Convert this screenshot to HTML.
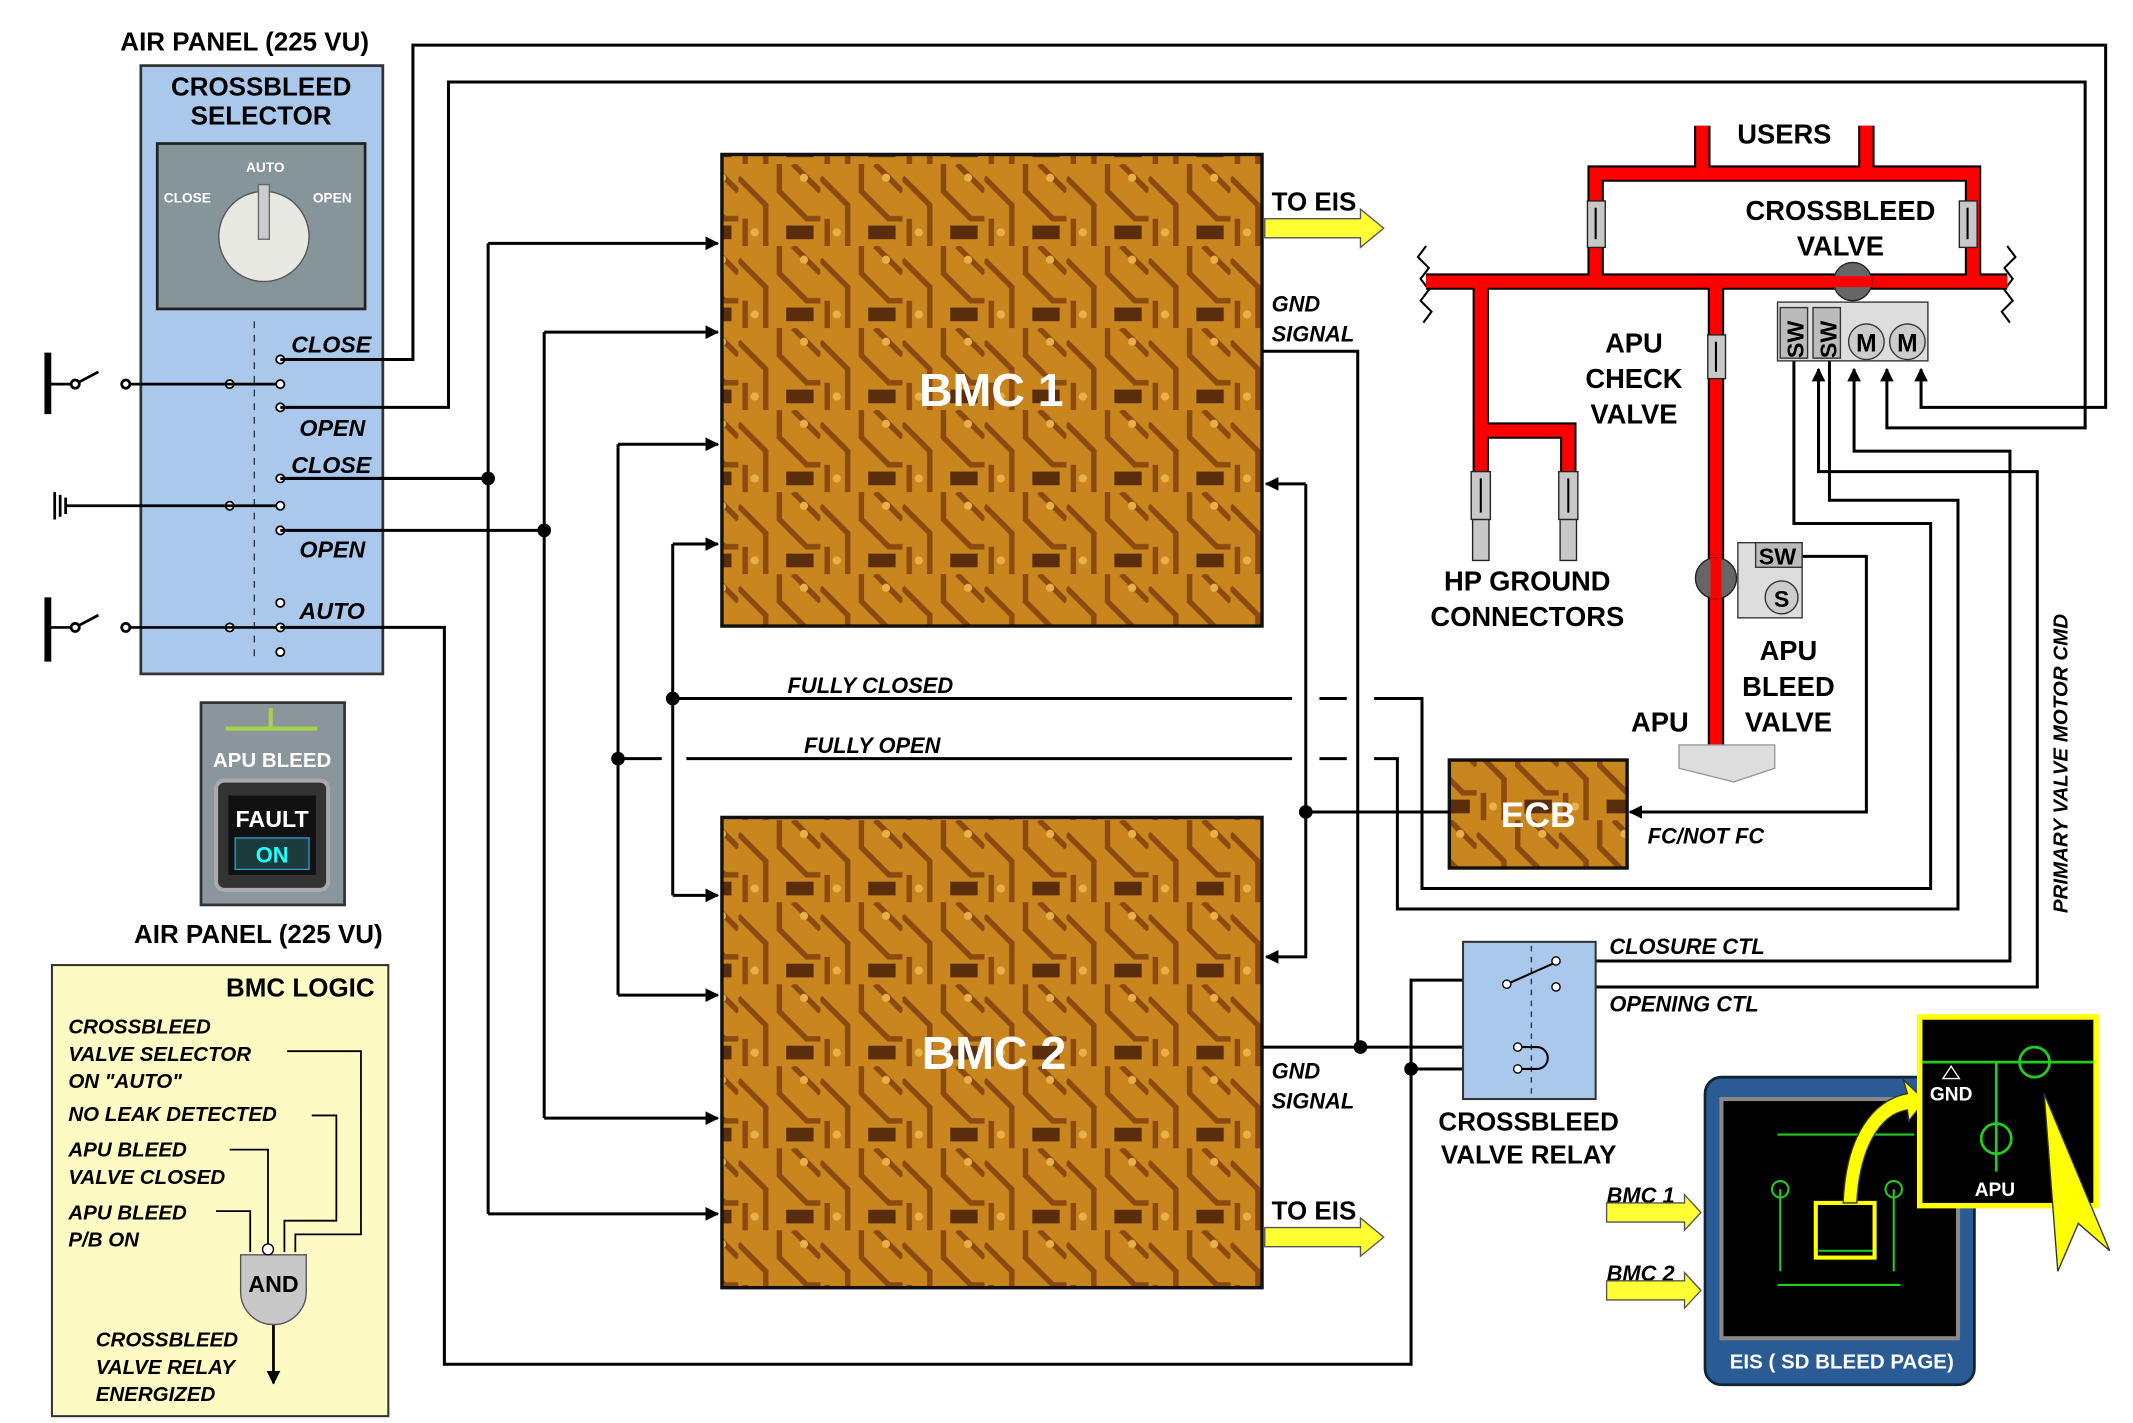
<!DOCTYPE html>
<html><head><meta charset="utf-8"><style>
html,body{margin:0;padding:0;background:#fff}
svg{display:block}
text{font-family:"Liberation Sans",Arial,sans-serif;font-weight:bold}
</style></head><body>
<svg width="2133" height="1423" viewBox="0 0 1560 1041" preserveAspectRatio="none" xmlns="http://www.w3.org/2000/svg">
<defs>
<pattern id="pcb" width="60" height="60" patternUnits="userSpaceOnUse">
<rect width="60" height="60" fill="#c9861e"/>
<path d="M0 10 L20 30 L20 60 M30 0 L30 20 L50 40 L60 40 M40 0 L60 20 M5 60 L5 40" stroke="#8a4a10" stroke-width="4" fill="none"/>
<rect x="35" y="45" width="20" height="10" fill="#5a2e0c"/>
<circle cx="12" cy="50" r="3" fill="#e9b04a"/><circle cx="48" cy="10" r="3" fill="#e9b04a"/>
</pattern>
<marker id="ar" markerWidth="10" markerHeight="10" refX="9" refY="5" orient="auto" markerUnits="userSpaceOnUse"><path d="M0,0 L10,5 L0,10 z" fill="#000"/></marker>
</defs>
<rect width="1560" height="1041" fill="#fff"/>

<!-- Air panel -->
<text x="88" y="37" font-size="19">AIR PANEL (225 VU)</text>
<rect x="103" y="48" width="177" height="445" fill="#a9c8ec" stroke="#333" stroke-width="2"/>
<text x="191" y="70" font-size="19" text-anchor="middle">CROSSBLEED</text>
<text x="191" y="91" font-size="19" text-anchor="middle">SELECTOR</text>
<rect x="115" y="105" width="152" height="121" fill="#86959a" stroke="#222" stroke-width="2"/>
<circle cx="193" cy="173" r="33" fill="#e9e9e4" stroke="#555"/>
<rect x="189" y="135" width="8" height="40" fill="#ccc" stroke="#666"/>
<text x="194" y="126" font-size="10" fill="#fff" text-anchor="middle" font-weight="normal">AUTO</text>
<text x="137" y="148" font-size="10" fill="#fff" text-anchor="middle" font-weight="normal">CLOSE</text>
<text x="243" y="148" font-size="10" fill="#fff" text-anchor="middle" font-weight="normal">OPEN</text>
<line x1="186" y1="235" x2="186" y2="485" stroke="#333" stroke-dasharray="5,5"/>
<g font-size="17" font-style="italic">
<text x="213" y="258">CLOSE</text><text x="219" y="319">OPEN</text>
<text x="213" y="346">CLOSE</text><text x="219" y="408">OPEN</text><text x="219" y="453">AUTO</text>
</g>
<g fill="#fff" stroke="#000" stroke-width="1.3">
<circle cx="205" cy="263" r="3"/><circle cx="205" cy="281" r="3"/><circle cx="205" cy="298" r="3"/>
<circle cx="205" cy="350" r="3"/><circle cx="205" cy="370" r="3"/><circle cx="205" cy="388" r="3"/>
<circle cx="205" cy="441" r="3"/><circle cx="205" cy="459" r="3"/><circle cx="205" cy="477" r="3"/>
<circle cx="168" cy="281" r="3"/><circle cx="168" cy="370" r="3"/><circle cx="168" cy="459" r="3"/>
</g>
<g stroke="#000" stroke-width="2" fill="none">
<line x1="35" y1="258" x2="35" y2="303" stroke-width="5"/>
<path d="M35 281 H55 M55 281 L72 272 M92 281 H202"/>
<circle cx="55" cy="281" r="3" fill="#fff"/><circle cx="92" cy="281" r="3" fill="#fff"/>
<path d="M40 360 V380 M44 362 V378 M48 364 V376 M48 370 H202"/>
<line x1="35" y1="437" x2="35" y2="484" stroke-width="5"/>
<path d="M35 459 H55 M55 459 L72 450 M92 459 H202"/>
<circle cx="55" cy="459" r="3" fill="#fff"/><circle cx="92" cy="459" r="3" fill="#fff"/>
</g>

<!-- APU bleed panel -->
<rect x="147" y="514" width="105" height="148" fill="#8a969b" stroke="#333" stroke-width="2"/>
<path d="M165 533 H232 M198 518 V533" stroke="#a6d24b" stroke-width="3"/>
<text x="199" y="561" font-size="15" fill="#fff" text-anchor="middle" font-weight="normal">APU BLEED</text>
<rect x="158" y="571" width="82" height="80" rx="6" fill="#333" stroke="#aaa" stroke-width="3"/>
<rect x="167" y="582" width="64" height="58" fill="#111"/>
<text x="199" y="605" font-size="17" fill="#fff" text-anchor="middle" font-weight="normal">FAULT</text>
<rect x="172" y="613" width="54" height="23" fill="#1d3b3b" stroke="#39c" />
<text x="199" y="631" font-size="16" fill="#2ff" text-anchor="middle">ON</text>
<text x="98" y="690" font-size="19">AIR PANEL (225 VU)</text>

<!-- BMC logic -->
<rect x="38" y="706" width="246" height="330" fill="#fdfbc3" stroke="#333" stroke-width="1.5"/>
<text x="274" y="729" font-size="19" text-anchor="end">BMC LOGIC</text>
<g font-size="15" font-style="italic">
<text x="50" y="756">CROSSBLEED</text><text x="50" y="776">VALVE SELECTOR</text><text x="50" y="796">ON "AUTO"</text>
<text x="50" y="820">NO LEAK DETECTED</text>
<text x="50" y="846">APU BLEED</text><text x="50" y="866">VALVE CLOSED</text>
<text x="50" y="892">APU BLEED</text><text x="50" y="912">P/B ON</text>
<text x="70" y="985">CROSSBLEED</text><text x="70" y="1005">VALVE RELAY</text><text x="70" y="1025">ENERGIZED</text>
</g>
<g stroke="#000" stroke-width="1.3" fill="none">
<path d="M210 769 H264 V903 H216 V916"/>
<path d="M228 816 H246 V893 H208 V916"/>
<path d="M168 841 H196 V912 V916"/>
<path d="M158 886 H183 V916"/>
<path d="M200 967 V1012" stroke-width="2" marker-end="url(#ar)"/>
</g>
<path d="M176 918 H224 V945 A24 24 0 0 1 176 945 Z" fill="#c8c8c8" stroke="#555"/>
<circle cx="196" cy="914" r="4" fill="#fff" stroke="#000"/>
<text x="200" y="945" font-size="17" text-anchor="middle">AND</text>

<!-- BMC boxes -->
<rect x="528" y="113" width="395" height="345" fill="url(#pcb)" stroke="#111" stroke-width="2.5"/>
<text x="725" y="297" font-size="34" fill="#fff" text-anchor="middle">BMC 1</text>
<rect x="528" y="598" width="395" height="344" fill="url(#pcb)" stroke="#111" stroke-width="2.5"/>
<text x="727" y="782" font-size="34" fill="#fff" text-anchor="middle">BMC 2</text>
<rect x="1060" y="556" width="130" height="79" fill="url(#pcb)" stroke="#111" stroke-width="2.5"/>
<text x="1125" y="605" font-size="26" fill="#fff" text-anchor="middle">ECB</text>

<!-- wires -->
<g stroke="#000" stroke-width="2.2" fill="none">
<path d="M205 263 H302 V33 H1540 V298 H1405 V270" marker-end="url(#ar)"/>
<path d="M205 298 H328 V60 H1525 V313 H1380 V270" marker-end="url(#ar)"/>
<path d="M205 350 H357"/>
<path d="M357 178 V888"/>
<path d="M357 178 H525" marker-end="url(#ar)"/><path d="M357 888 H525" marker-end="url(#ar)"/>
<path d="M205 388 H398"/>
<path d="M398 243 V818"/>
<path d="M398 243 H525" marker-end="url(#ar)"/><path d="M398 818 H525" marker-end="url(#ar)"/>
<path d="M452 325 V728"/>
<path d="M452 325 H525" marker-end="url(#ar)"/><path d="M452 728 H525" marker-end="url(#ar)"/>
<path d="M492 398 V655"/>
<path d="M492 398 H525" marker-end="url(#ar)"/><path d="M492 655 H525" marker-end="url(#ar)"/>
<path d="M492 511 H945 M965 511 H985 M1005 511 H1040 V650 H1412 V383 H1312 V262"/>
<path d="M452 555 H484 M502 555 H945 M965 555 H985 M1005 555 H1022 V665 H1432 V366 H1338 V262"/>
<path d="M205 459 H325 V998 H1032 V717 H1100"/>
<path d="M923 257 H993 V766"/>
<path d="M923 766 H1030"/>
<path d="M1030 766 H1110 M1032 782 H1110"/>
<path d="M1060 594 H955 V354"/>
<path d="M955 354 H926" marker-end="url(#ar)"/>
<path d="M955 594 V700 H926" marker-end="url(#ar)"/>
<path d="M1318 407 H1365 V594 H1192" marker-end="url(#ar)"/>
<path d="M1138 703 H1470 V330 H1356 V270" marker-end="url(#ar)"/>
<path d="M1138 722 H1490 V345 H1330 V270"/>
<path d="M1330 345 V270" marker-end="url(#ar)"/>
</g>
<g fill="#000">
<circle cx="357" cy="350" r="5"/><circle cx="398" cy="388" r="5"/><circle cx="452" cy="555" r="5"/>
<circle cx="492" cy="511" r="5"/><circle cx="955" cy="594" r="5"/><circle cx="995" cy="766" r="5"/><circle cx="1032" cy="782" r="5"/>
</g>
<g font-size="16" font-style="italic">
<text x="576" y="507">FULLY CLOSED</text><text x="588" y="551">FULLY OPEN</text>
<text x="930" y="228">GND</text><text x="930" y="250">SIGNAL</text>
<text x="930" y="789">GND</text><text x="930" y="811">SIGNAL</text>
<text x="1205" y="617">FC/NOT FC</text>
<text x="1177" y="698">CLOSURE CTL</text><text x="1177" y="740">OPENING CTL</text>
<text x="1175" y="880">BMC 1</text><text x="1175" y="937">BMC 2</text>
<text transform="translate(1512,668) rotate(-90)" font-size="15">PRIMARY VALVE MOTOR CMD</text>
</g>
<g font-size="19">
<text x="930" y="154">TO EIS</text><text x="930" y="892">TO EIS</text>
</g>
<g fill="#ffff33" stroke="#555" stroke-width="1">
<path d="M925 160 H995 V153 L1012 167 L995 181 V174 H925 Z"/>
<path d="M925 898 H995 V891 L1012 905 L995 919 V912 H925 Z"/>
<path d="M1175 880 H1232 V874 L1244 887 L1232 900 V894 H1175 Z"/>
<path d="M1175 937 H1232 V931 L1244 944 L1232 957 V951 H1175 Z"/>
</g>

<!-- relay -->
<rect x="1070" y="689" width="97" height="115" fill="#a9c8ec" stroke="#333" stroke-width="1.5"/>
<line x1="1120" y1="692" x2="1120" y2="800" stroke="#333" stroke-dasharray="4,4"/>
<path d="M1102 720 L1138 704 M1112 766 H1124 A8 8 0 0 1 1124 782 H1112" stroke="#000" stroke-width="1.5" fill="none"/>
<g fill="#fff" stroke="#000"><circle cx="1138" cy="703" r="3"/><circle cx="1138" cy="722" r="3"/><circle cx="1102" cy="720" r="3"/><circle cx="1110" cy="766" r="3"/><circle cx="1110" cy="782" r="3"/></g>
<text x="1118" y="827" font-size="19" text-anchor="middle">CROSSBLEED</text>
<text x="1118" y="851" font-size="19" text-anchor="middle">VALVE RELAY</text>

<!-- pipes -->
<g stroke="#000" stroke-width="1.5" fill="none">
<path d="M1043 180 l-6 8 l8 8 l-6 8 l6 8 l-6 8 l8 8 l-6 8"/>
<path d="M1468 180 l6 8 l-8 8 l6 8 l-6 8 l6 8 l-8 8 l6 8"/>
</g>
<g stroke="#000" stroke-width="12" fill="none" stroke-linejoin="miter">
<path d="M1043 206 H1468 M1167 206 V127 H1443 V206 M1245 92 V127 M1365 92 V127 M1083 206 V380 M1083 315 H1147 V380 M1255 206 V545"/>
</g>
<g stroke="#f00" stroke-width="9" fill="none" stroke-linejoin="miter">
<path d="M1043 206 H1468 M1167 206 V127 H1443 V206 M1245 92 V127 M1365 92 V127 M1083 206 V380 M1083 315 H1147 V380 M1255 206 V545"/>
</g>
<g fill="#c8c8c8" stroke="#222">
<rect x="1077" y="380" width="12" height="30"/><rect x="1141" y="380" width="12" height="30"/>
<rect x="1161" y="147" width="13" height="34"/><rect x="1433" y="147" width="13" height="34"/>
<rect x="1249" y="245" width="13" height="32"/><rect x="1076" y="345" width="14" height="35"/><rect x="1140" y="345" width="14" height="35"/>
</g>
<g stroke="#000" stroke-width="1.5"><path d="M1167 175 V152 M1439 175 V152 M1255 272 V250 M1083 375 V350 M1147 375 V350"/></g>
<path d="M1228 545 H1298 V562 L1268 572 L1228 562 Z" fill="#ddd" stroke="#999"/>
<circle cx="1355" cy="206" r="14" fill="#666" stroke="#222"/><rect x="1341" y="202" width="28" height="8" fill="#f00"/>
<rect x="1300" y="221" width="110" height="43" fill="#ddd" stroke="#333"/>
<rect x="1302" y="225" width="20" height="37" fill="#bbb" stroke="#333"/><rect x="1326" y="225" width="20" height="37" fill="#bbb" stroke="#333"/>
<text transform="translate(1319,262) rotate(-90)" font-size="17">SW</text>
<text transform="translate(1343,262) rotate(-90)" font-size="17">SW</text>
<circle cx="1365" cy="250" r="13" fill="#ccc" stroke="#333"/><circle cx="1395" cy="250" r="13" fill="#ccc" stroke="#333"/>
<text x="1365" y="257" font-size="18" text-anchor="middle">M</text><text x="1395" y="257" font-size="18" text-anchor="middle">M</text>
<rect x="1271" y="397" width="47" height="55" fill="#ddd" stroke="#333"/>
<rect x="1284" y="397" width="34" height="18" fill="#bbb" stroke="#333"/>
<text x="1300" y="413" font-size="17" text-anchor="middle">SW</text>
<circle cx="1303" cy="437" r="12" fill="#ccc" stroke="#333"/><text x="1303" y="444" font-size="17" text-anchor="middle">S</text>
<circle cx="1255" cy="423" r="15" fill="#666" stroke="#222"/><rect x="1251" y="408" width="8" height="30" fill="#f00"/>
<g font-size="20">
<text x="1305" y="105" text-anchor="middle">USERS</text>
<text x="1346" y="161" text-anchor="middle">CROSSBLEED</text><text x="1346" y="187" text-anchor="middle">VALVE</text>
<text x="1195" y="258" text-anchor="middle">APU</text><text x="1195" y="284" text-anchor="middle">CHECK</text><text x="1195" y="310" text-anchor="middle">VALVE</text>
<text x="1117" y="432" text-anchor="middle">HP GROUND</text><text x="1117" y="458" text-anchor="middle">CONNECTORS</text>
<text x="1308" y="483" text-anchor="middle">APU</text><text x="1308" y="509" text-anchor="middle">BLEED</text><text x="1308" y="535" text-anchor="middle">VALVE</text>
<text x="1214" y="535" text-anchor="middle">APU</text>
</g>

<!-- EIS -->
<rect x="1247" y="788" width="197" height="225" rx="12" fill="#2a5b95" stroke="#123" stroke-width="2"/>
<rect x="1259" y="804" width="173" height="175" fill="#000" stroke="#888" stroke-width="3"/>
<g stroke="#2c2" stroke-width="1.5" fill="none">
<path d="M1300 830 H1400 M1302 870 V930 M1385 870 V930 M1330 915 H1370 M1300 940 H1390"/>
<circle cx="1302" cy="870" r="6"/><circle cx="1385" cy="870" r="6"/>
</g>
<rect x="1328" y="880" width="43" height="40" fill="none" stroke="#ff0" stroke-width="3"/>
<text x="1347" y="1001" font-size="15" fill="#fff" text-anchor="middle">EIS ( SD BLEED PAGE)</text>
<path d="M1348 880 C1350 830 1370 805 1395 800 L1392 790 L1408 805 L1396 820 L1395 812 C1375 815 1360 840 1358 880 Z" fill="#ff0" stroke="#333"/>
<rect x="1404" y="744" width="129" height="138" fill="#000" stroke="#ff0" stroke-width="4"/>
<g stroke="#2c2" stroke-width="2" fill="none">
<path d="M1406 777 H1531 M1460 777 V857"/><circle cx="1488" cy="777" r="11"/><circle cx="1460" cy="833" r="11"/>
</g>
<text x="1427" y="805" font-size="14" fill="#fff" text-anchor="middle" font-weight="normal">GND</text>
<path d="M1421 789 L1427 780 L1433 789 Z" fill="none" stroke="#fff"/>
<text x="1459" y="875" font-size="14" fill="#fff" text-anchor="middle" font-weight="normal">APU</text>
<path d="M1495 800 L1543 915 L1520 895 L1505 930 Z" fill="#ff0" stroke="#333"/>
</svg>
</body></html>
